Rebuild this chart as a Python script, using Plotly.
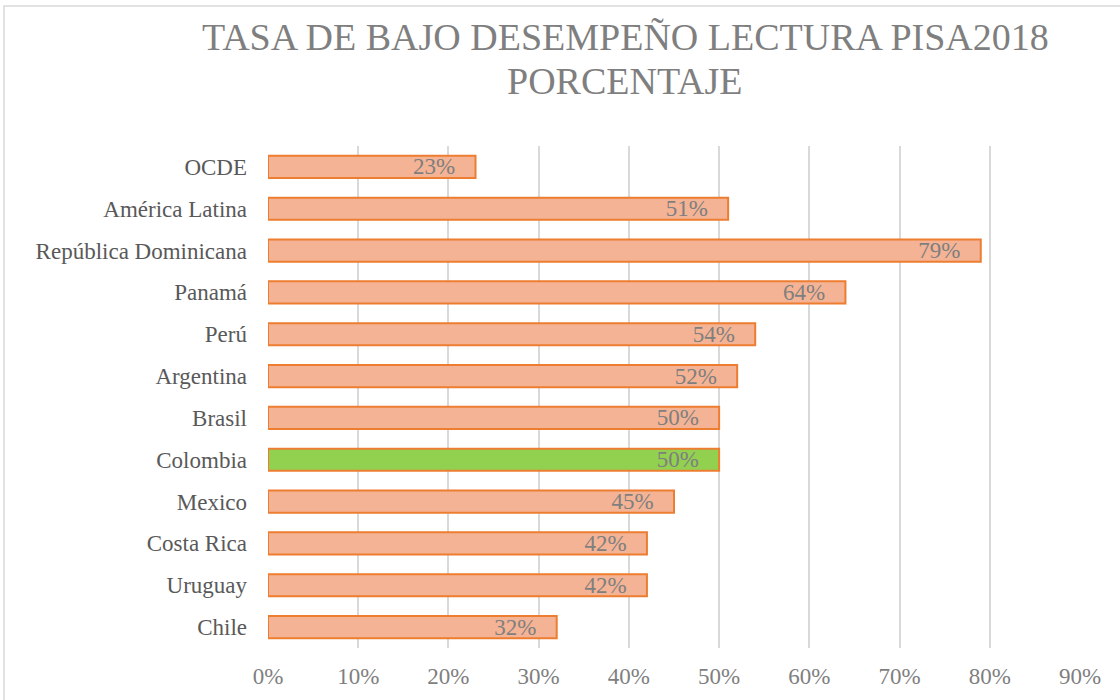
import plotly.graph_objects as go

categories = ["OCDE", "América Latina", "República Dominicana", "Panamá", "Perú",
              "Argentina", "Brasil", "Colombia", "Mexico", "Costa Rica", "Uruguay", "Chile"]
values = [0.23, 0.51, 0.79, 0.64, 0.54, 0.52, 0.50, 0.50, 0.45, 0.42, 0.42, 0.32]
tick_vals = [0, 0.1, 0.2, 0.3, 0.4, 0.5, 0.6, 0.7, 0.8, 0.9]
tick_text = ["0%", "10%", "20%", "30%", "40%", "50%", "60%", "70%", "80%", "90%"]

fills = ["#92D050" if c == "Colombia" else "#F4B394" for c in categories]

fig = go.Figure()
fig.add_trace(go.Bar(
    y=categories, x=values, orientation="h",
    marker=dict(color=fills, line=dict(color="#ED7D31", width=2)),
    width=0.53,
    text=[f"{round(v*100)}%\u00a0\u00a0\u00a0" for v in values],
    textposition="inside", insidetextanchor="end", constraintext="none",
    textfont=dict(family="Liberation Serif", size=23, color="#7f7f7f"),
    hoverinfo="skip",
))

L, R, T, B = 268, 1080, 146, 648
W, H = 1120, 700

def px_x(p):
    return (p - L) / (R - L)

def px_y(p):
    return (B - p) / (B - T)

fig.update_layout(
    width=W, height=H,
    margin=dict(l=L, r=W - R, t=T, b=H - B),
    paper_bgcolor="white", plot_bgcolor="white",
    showlegend=False,
    uniformtext=dict(minsize=23, mode="show"),
    font=dict(family="Liberation Serif", color="#595959"),
    xaxis=dict(range=[0, 0.9], tickvals=tick_vals, ticktext=tick_text,
               showgrid=True, gridcolor="#D9D9D9", gridwidth=1.5,
               zeroline=False, showline=False, ticks="", ticklabelstandoff=12,
               automargin=False,
               tickfont=dict(family="Liberation Serif", size=23, color="#7f7f7f")),
    yaxis=dict(categoryorder="array", categoryarray=categories, autorange="reversed",
               showgrid=False, zeroline=False, showline=False, ticks="",
               ticklabelstandoff=20, automargin=False,
               tickfont=dict(family="Liberation Serif", size=23, color="#595959")),
    bargap=0.47,
    annotations=[
        dict(text="TASA DE BAJO DESEMPEÑO LECTURA PISA2018",
             xref="paper", yref="paper", x=px_x(625), y=px_y(37),
             xanchor="center", yanchor="middle", showarrow=False,
             font=dict(family="Liberation Serif", size=38, color="#7f7f7f")),
        dict(text="PORCENTAJE",
             xref="paper", yref="paper", x=px_x(625), y=px_y(81),
             xanchor="center", yanchor="middle", showarrow=False,
             font=dict(family="Liberation Serif", size=38, color="#7f7f7f")),
    ],
    shapes=[dict(type="rect", xref="paper", yref="paper",
                 x0=px_x(4), x1=px_x(1130), y0=px_y(710), y1=px_y(6),
                 line=dict(color="#D9D9D9", width=1.5), fillcolor="rgba(0,0,0,0)",
                 layer="below")],
)

fig.write_html("out.html", config={"displayModeBar": False},
               post_script="document.body.style.margin='0';")
